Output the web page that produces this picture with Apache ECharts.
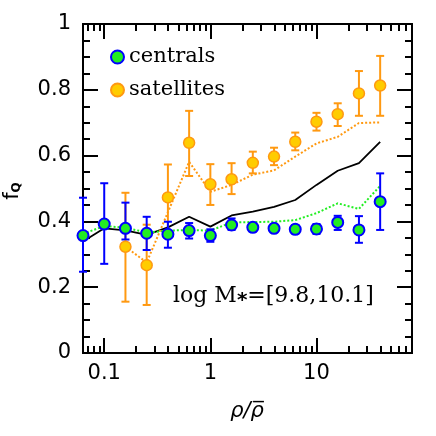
<!DOCTYPE html>
<html>
<head>
<meta charset="utf-8">
<script src="https://cdn.jsdelivr.net/npm/echarts@6/dist/echarts.min.js"></script>
<style>
  html, body { margin: 0; padding: 0; background: #fff; }
  #chart { width: 436px; height: 436px; }
</style>
</head>
<body>
<div id="chart"></div>
<script>
// density bins (rho / mean rho)
const rho = [0.0631, 0.1, 0.1585, 0.2512, 0.3981, 0.631, 1, 1.585, 2.512, 3.981, 6.31, 10, 15.85, 25.12, 39.81]

// centrals: quenched fraction and error bar ends
const cenF  = [0.357, 0.392, 0.379, 0.364, 0.361, 0.372, 0.357, 0.389, 0.382, 0.379, 0.376, 0.377, 0.397, 0.374, 0.46]
const cenHi = [0.472, 0.516, 0.457, 0.414, 0.399, 0.395, 0.376, 0.409, 0.394, 0.391, 0.389, 0.392, 0.417, 0.416, 0.546]
const cenLo = [0.247, 0.271, 0.345, 0.313, 0.32, 0.348, 0.338, 0.374, 0.369, 0.367, 0.363, 0.362, 0.374, 0.335, 0.374]

// satellites
const satF  = [null, null, 0.323, 0.267, 0.473, 0.639, 0.513, 0.528, 0.578, 0.597, 0.642, 0.703, 0.726, 0.789, 0.813]
const satHi = [null, null, 0.487, 0.39, 0.573, 0.736, 0.574, 0.577, 0.612, 0.624, 0.67, 0.73, 0.759, 0.857, 0.903]
const satLo = [null, null, 0.156, 0.146, 0.37, 0.538, 0.45, 0.483, 0.546, 0.571, 0.616, 0.676, 0.69, 0.721, 0.721]

// all galaxies (solid) and model curves (dotted)
const allF     = [0.339, 0.379, 0.373, 0.359, 0.382, 0.414, 0.384, 0.418, 0.43, 0.444, 0.465, 0.511, 0.554, 0.577, 0.642]
const cenModel = [0.362, 0.386, 0.381, 0.366, 0.372, 0.374, 0.372, 0.397, 0.398, 0.399, 0.404, 0.425, 0.455, 0.438, 0.508]
const satModel = [null, null, 0.323, 0.275, 0.428, 0.581, 0.49, 0.511, 0.542, 0.555, 0.597, 0.637, 0.657, 0.699, 0.701]

// axis ticks
const xMajor = [0.1, 1, 10]
const xTickLabels = ['0.1', '1', '10']
const xMinor = [0.07, 0.08, 0.09, 0.2, 0.3, 0.4, 0.5, 0.6, 0.7, 0.8, 0.9,
  2, 3, 4, 5, 6, 7, 8, 9, 20, 30, 40, 50, 60, 70]
const yTickLabels = ['0', '0.2', '0.4', '0.6', '0.8', '1']

const BLUE = '#0000ff'
const GREEN = '#22ee22'
const ORANGE = '#ff9911'
const GOLD = '#ffcc00'

const lg = v => Math.log10(v)
const pairs = (ys) => rho.map((r, i) => ys[i] == null ? null : [lg(r), ys[i]]).filter(Boolean)

function errorBars(name, lo, hi, color, z) {
  return {
    name,
    type: 'custom',
    z,
    clip: false,
    data: rho.map((r, i) => hi[i] == null ? null : [lg(r), lo[i], hi[i]]).filter(Boolean),
    encode: { x: 0, y: [1, 2] },
    renderItem: (params, api) => {
      const x = api.value(0)
      const top = api.coord([x, api.value(2)])
      const bot = api.coord([x, api.value(1)])
      const hw = 4
      const style = { stroke: color, lineWidth: 2 }
      return {
        type: 'group',
        children: [
          { type: 'line', shape: { x1: top[0], y1: top[1], x2: bot[0], y2: bot[1] }, style },
          { type: 'line', shape: { x1: top[0] - hw, y1: top[1], x2: top[0] + hw, y2: top[1] }, style },
          { type: 'line', shape: { x1: bot[0] - hw, y1: bot[1], x2: bot[0] + hw, y2: bot[1] }, style }
        ]
      }
    }
  }
}

const X_MIN = -1.2
const X_MAX = 1.9

function xAxisDef(position, ticks, len, withLabels) {
  return {
    type: 'value',
    position,
    min: X_MIN,
    max: X_MAX,
    axisLine: { show: true, onZero: false, lineStyle: { color: '#000', width: 2 } },
    axisTick: { show: true, inside: true, length: len, customValues: ticks.map(lg), lineStyle: { color: '#000', width: 2 } },
    axisLabel: withLabels ? {
      show: true,
      customValues: xMajor.map(lg),
      margin: 10,
      color: '#000',
      fontFamily: 'DejaVu Sans',
      fontSize: 21,
      formatter: v => {
        const k = xMajor.findIndex(t => Math.abs(lg(t) - v) < 1e-6)
        return k >= 0 ? xTickLabels[k] : ''
      }
    } : { show: false },
    splitLine: { show: false }
  }
}

function yAxisDef(position, withLabels) {
  return {
    type: 'value',
    position,
    min: 0,
    max: 1,
    interval: 0.2,
    axisLine: { show: true, onZero: false, lineStyle: { color: '#000', width: 2 } },
    axisTick: { show: true, inside: true, length: 15, lineStyle: { color: '#000', width: 2 } },
    minorTick: { show: true, splitNumber: 4, length: 7, lineStyle: { color: '#000', width: 2 } },
    axisLabel: withLabels ? {
      show: true,
      margin: 12,
      color: '#000',
      fontFamily: 'DejaVu Sans',
      fontSize: 21,
      formatter: v => yTickLabels[Math.round(v / 0.2)]
    } : { show: false },
    splitLine: { show: false }
  }
}

const chart = echarts.init(document.getElementById('chart'), null, { renderer: 'canvas' })

chart.setOption({
  animation: false,
  backgroundColor: '#fff',
  grid: { left: 83, right: 24, top: 24, bottom: 83 },
  xAxis: [
    xAxisDef('bottom', xMajor, 15, true),
    xAxisDef('bottom', xMinor, 7, false),
    xAxisDef('top', xMajor, 15, false),
    xAxisDef('top', xMinor, 7, false)
  ],
  yAxis: [yAxisDef('left', true), yAxisDef('right', false)],
  legend: {
    orient: 'vertical',
    left: 110,
    top: 46,
    padding: 0,
    itemGap: 11,
    itemWidth: 13,
    itemHeight: 13,
    icon: 'circle',
    data: ['centrals', 'satellites'],
    textStyle: { fontFamily: 'DejaVu Serif', fontSize: 21, lineHeight: 22, color: '#000' }
  },
  graphic: [
    {
      type: 'text',
      x: 173,
      y: 308,
      style: {
        text: '{a|log M}{s|⁎}{a|=[9.8,10.1]}',
        textVerticalAlign: 'bottom',
        rich: {
          a: { fontFamily: 'DejaVu Serif', fontSize: 22, color: '#000', lineHeight: 24 },
          s: { fontFamily: 'DejaVu Sans', fontSize: 20, fontWeight: 'bold', color: '#000', lineHeight: 24 }
        }
      }
    },
    {
      type: 'text',
      x: 12,
      y: 191,
      rotation: Math.PI / 2,
      style: {
        text: '{f|f}{q|Q}',
        align: 'center',
        verticalAlign: 'middle',
        rich: {
          f: { fontFamily: 'DejaVu Sans', fontSize: 21, color: '#000', verticalAlign: 'bottom', lineHeight: 22 },
          q: { fontFamily: 'DejaVu Sans', fontSize: 12, fontWeight: 'bold', color: '#000', verticalAlign: 'bottom', lineHeight: 12, padding: [6, 0, 0, 0] }
        }
      }
    },
    {
      type: 'text',
      x: 247,
      y: 412,
      style: {
        text: 'ρ/ρ\u0305',
        align: 'center',
        verticalAlign: 'middle',
        fontFamily: 'DejaVu Sans',
        fontStyle: 'italic',
        fontSize: 21,
        fill: '#000'
      }
    }
  ],
  series: [
    {
      name: 'all',
      type: 'line',
      z: 1,
      data: pairs(allF),
      showSymbol: false,
      lineStyle: { color: '#000', width: 1.8 }
    },
    {
      name: 'cenModel',
      type: 'line',
      z: 1,
      data: pairs(cenModel),
      showSymbol: false,
      lineStyle: { color: GREEN, width: 2, type: [2, 2] }
    },
    {
      name: 'satModel',
      type: 'line',
      z: 1,
      data: pairs(satModel),
      showSymbol: false,
      lineStyle: { color: ORANGE, width: 2, type: [2, 2] }
    },
    errorBars('satErr', satLo, satHi, ORANGE, 2),
    errorBars('cenErr', cenLo, cenHi, BLUE, 3),
    {
      name: 'satellites',
      type: 'scatter',
      z: 4,
      clip: false,
      data: pairs(satF),
      symbol: 'circle',
      symbolSize: 11,
      itemStyle: { color: GOLD, borderColor: ORANGE, borderWidth: 1.5, opacity: 1 }
    },
    {
      name: 'centrals',
      type: 'scatter',
      z: 5,
      clip: false,
      data: pairs(cenF),
      symbol: 'circle',
      symbolSize: 11,
      itemStyle: { color: GREEN, borderColor: BLUE, borderWidth: 2, opacity: 1 }
    }
  ]
})
</script>
</body>
</html>
